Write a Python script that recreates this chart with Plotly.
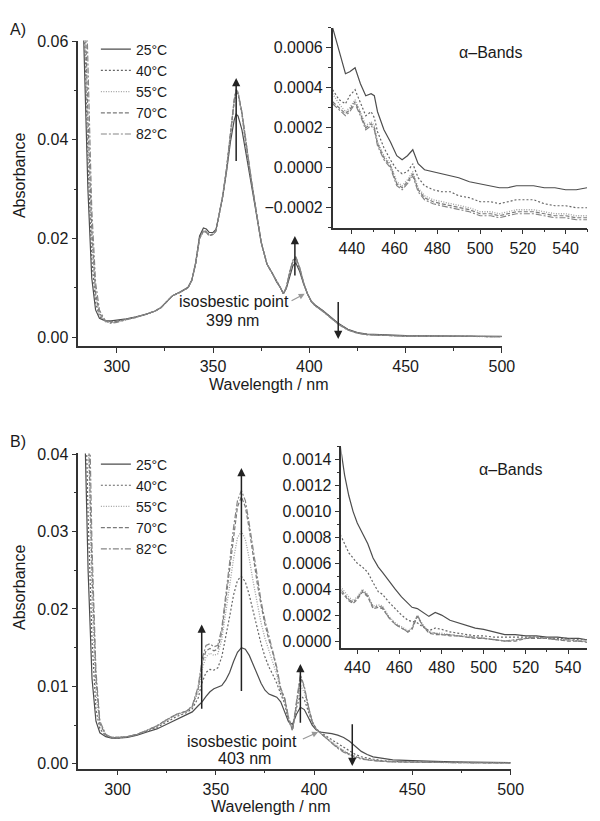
import plotly.graph_objects as go

# ---------------- data ----------------
temps = ["25°C", "40°C", "55°C", "70°C", "82°C"]

# Panel A main spectrum
wl_a = [280, 283, 285, 287, 289, 291, 294, 297, 300, 305, 310, 315, 320, 323, 326, 329, 333, 337, 339,
        341, 343, 345, 346.5, 348, 350, 351.5, 353, 355, 357, 359, 361, 362, 363, 365, 367, 370, 373, 375, 378,
        381, 383, 385, 386.5, 388, 390, 391.5, 393, 395, 397, 399, 401, 403, 407, 411, 415, 420, 425, 430, 440,
        450, 460, 470, 480, 490, 500]
a_25 = [0.10, 0.06, 0.03, 0.012, 0.0055, 0.0038, 0.0033, 0.0033, 0.0034,
        0.0037, 0.0041, 0.0046, 0.0053, 0.0060, 0.0072, 0.0084, 0.0092, 0.0101, 0.0116,
        0.0152, 0.0205, 0.0221, 0.0219, 0.0212, 0.0212, 0.0218, 0.0245, 0.0285, 0.0335,
        0.0395, 0.0440, 0.0452, 0.0448, 0.0420, 0.0375, 0.0310, 0.0238, 0.0192, 0.0148,
        0.0128, 0.0112, 0.0100, 0.0088, 0.0098, 0.0128, 0.0145, 0.0150, 0.0133, 0.0108,
        0.0088, 0.0073, 0.0065, 0.0054, 0.0041, 0.0028, 0.0016, 0.0009, 0.0006, 0.0004,
        0.0003, 0.00025, 0.0002, 0.0002, 0.00015, 0.00015]
a_40 = [0.11, 0.065, 0.036, 0.016, 0.007, 0.0042, 0.0032, 0.0030, 0.0032,
        0.0036, 0.0040, 0.0046, 0.0053, 0.0060, 0.0072, 0.0084, 0.0091, 0.0100, 0.0115,
        0.0150, 0.0201, 0.0216, 0.0214, 0.0207, 0.0209, 0.0215, 0.0245, 0.0285, 0.0340,
        0.0408, 0.0477, 0.0497, 0.0492, 0.0452, 0.0388, 0.0315, 0.0238, 0.0192, 0.0148,
        0.0128, 0.0112, 0.0100, 0.0088, 0.0100, 0.0133, 0.0153, 0.0158, 0.0138, 0.0110,
        0.0088, 0.0072, 0.0064, 0.0053, 0.0040, 0.0027, 0.0015, 0.0008, 0.0005, 0.0003,
        0.0002, 0.00018, 0.00015, 0.00012, 0.0001, 0.0001]
a_55 = [0.115, 0.07, 0.04, 0.020, 0.008, 0.0046, 0.0031, 0.0029, 0.0031,
        0.0035, 0.0040, 0.0046, 0.0053, 0.0060, 0.0072, 0.0084, 0.0091, 0.0100, 0.0115,
        0.0150, 0.0200, 0.0215, 0.0213, 0.0206, 0.0208, 0.0215, 0.0245, 0.0285, 0.0340,
        0.0410, 0.0479, 0.0499, 0.0494, 0.0452, 0.0387, 0.0315, 0.0238, 0.0192, 0.0148,
        0.0128, 0.0112, 0.0100, 0.0088, 0.0100, 0.0134, 0.0154, 0.0160, 0.0139, 0.0110,
        0.0088, 0.0072, 0.0064, 0.0053, 0.0040, 0.0027, 0.0015, 0.0008, 0.0005, 0.0003,
        0.0002, 0.00018, 0.00015, 0.00012, 0.0001, 0.0001]
a_70 = [0.12, 0.075, 0.045, 0.022, 0.009, 0.0048, 0.0034, 0.0031, 0.0032,
        0.0036, 0.0040, 0.0046, 0.0053, 0.0060, 0.0072, 0.0084, 0.0091, 0.0100, 0.0115,
        0.0150, 0.0200, 0.0215, 0.0213, 0.0206, 0.0208, 0.0215, 0.0245, 0.0285, 0.0340,
        0.0410, 0.0480, 0.0500, 0.0495, 0.0455, 0.0395, 0.0315, 0.0240, 0.0192, 0.0148,
        0.0128, 0.0112, 0.0100, 0.0088, 0.0100, 0.0135, 0.0155, 0.0162, 0.0140, 0.0110,
        0.0088, 0.0072, 0.0064, 0.0053, 0.0040, 0.0027, 0.0015, 0.0008, 0.0005, 0.0003,
        0.0002, 0.00018, 0.00015, 0.00012, 0.0001, 0.0001]
a_82 = [0.13, 0.085, 0.052, 0.026, 0.011, 0.0055, 0.0033, 0.0028, 0.0030,
        0.0035, 0.0040, 0.0046, 0.0053, 0.0060, 0.0072, 0.0084, 0.0091, 0.0100, 0.0115,
        0.0150, 0.0200, 0.0214, 0.0212, 0.0205, 0.0208, 0.0215, 0.0246, 0.0287, 0.0342,
        0.0412, 0.0482, 0.0502, 0.0496, 0.0456, 0.0396, 0.0316, 0.0239, 0.0192, 0.0148,
        0.0128, 0.0112, 0.0100, 0.0088, 0.0101, 0.0136, 0.0156, 0.0163, 0.0141, 0.0111,
        0.0088, 0.0072, 0.0063, 0.0052, 0.0039, 0.0026, 0.0014, 0.0008, 0.0005, 0.0003,
        0.0002, 0.00018, 0.00015, 0.00012, 0.0001, 0.0001]

# Panel A inset (alpha bands)
wl_ai = [431, 434, 437, 439, 441.5, 444, 446.5, 449, 450.5, 452, 455, 458, 461, 463.5, 466, 468.5, 471, 474,
         478, 482, 486, 490, 495, 500, 505, 509, 513, 517, 521, 525, 530, 535, 540, 545, 550]
ai_25 = [0.00070, 0.00058, 0.00047, 0.00048, 0.00050, 0.00042, 0.00036, 0.00037, 0.00036, 0.00028,
         0.00019, 0.00013, 0.00006, 0.00004, 0.00006, 0.00009, 0.00002, -0.00001, -0.00002, -0.00003,
         -0.00004, -0.00005, -0.00007, -0.00008, -0.00009, -0.00010, -0.00010, -0.00009, -0.00009, -0.00009,
         -0.00010, -0.00010, -0.00011, -0.00011, -0.00010]
ai_40 = [0.00039, 0.00034, 0.00032, 0.00036, 0.00039, 0.00032, 0.00026, 0.00028, 0.00025, 0.00018,
         0.00010, 0.00004, -0.00001, -0.00003, -0.00002, 0.00002, -0.00005, -0.00009, -0.00011, -0.00012,
         -0.00012, -0.00014, -0.00015, -0.00017, -0.00017, -0.00018, -0.00017, -0.00016, -0.00016, -0.00016,
         -0.00018, -0.00019, -0.00019, -0.00020, -0.00020]
ai_55 = [0.00037, 0.00032, 0.00028, 0.00030, 0.00034, 0.00028, 0.00021, 0.00023, 0.00021, 0.00013,
         0.00006, 0.00002, -0.00007, -0.00009, -0.00006, -0.00002, -0.00010, -0.00014, -0.00016, -0.00017,
         -0.00018, -0.00019, -0.00020, -0.00022, -0.00022, -0.00023, -0.00022, -0.00021, -0.00021, -0.00021,
         -0.00022, -0.00023, -0.00023, -0.00024, -0.00024]
ai_70 = [0.00033, 0.00030, 0.00027, 0.00029, 0.00033, 0.00027, 0.00020, 0.00022, 0.00020, 0.00012,
         0.00005, 0.00001, -0.00008, -0.00010, -0.00007, -0.00003, -0.00011, -0.00015, -0.00017, -0.00018,
         -0.00019, -0.00020, -0.00021, -0.00023, -0.00023, -0.00024, -0.00023, -0.00022, -0.00022, -0.00022,
         -0.00023, -0.00024, -0.00024, -0.00025, -0.00025]
ai_82 = [0.00032, 0.00029, 0.00026, 0.00028, 0.00032, 0.00026, 0.00019, 0.00021, 0.00019, 0.00011,
         0.00004, 0.00000, -0.00009, -0.00011, -0.00008, -0.00004, -0.00012, -0.00016, -0.00018, -0.00019,
         -0.00020, -0.00021, -0.00022, -0.00024, -0.00024, -0.00025, -0.00024, -0.00023, -0.00023, -0.00023,
         -0.00024, -0.00025, -0.00025, -0.00026, -0.00026]

# Panel B main spectrum
wl_b = [280, 283, 285, 287, 289, 291, 294, 297, 300, 305, 310, 315, 320, 325, 330, 335, 338, 341, 343, 345,
        347, 349, 351, 353, 355, 357, 359, 361, 363, 365, 367, 369, 371, 373, 375, 377, 379, 381, 383, 385,
        387, 389, 391, 393, 395, 397, 399, 401, 403, 406, 409, 412, 415, 418, 421, 424, 427, 430, 435, 440,
        450, 460, 470, 480, 490, 500]
b_25 = [0.08, 0.045, 0.025, 0.011, 0.0055, 0.0040, 0.0035, 0.0033, 0.0033, 0.0034,
        0.0037, 0.0041, 0.0045, 0.0051, 0.0057, 0.0063, 0.0067, 0.0075, 0.0080, 0.0087,
        0.0093, 0.0097, 0.0099, 0.0101, 0.0108, 0.0118, 0.0132, 0.0144, 0.0150, 0.0148,
        0.0140, 0.0128, 0.0116, 0.0104, 0.0095, 0.0090, 0.0088, 0.0086, 0.0080, 0.0068,
        0.0054, 0.0051, 0.0064, 0.0073, 0.0070, 0.0060, 0.0050, 0.0044, 0.0041, 0.0040,
        0.0039, 0.0037, 0.0034, 0.0029, 0.0022, 0.0016, 0.0012, 0.0009, 0.0007, 0.0005,
        0.0004, 0.0003, 0.00025, 0.0002, 0.0002, 0.00015]
b_40 = [0.09, 0.055, 0.032, 0.016, 0.007, 0.0045, 0.0036, 0.0034, 0.0033, 0.0035,
        0.0038, 0.0042, 0.0047, 0.0054, 0.0061, 0.0066, 0.0071, 0.0085, 0.0105, 0.0118,
        0.0122, 0.0121, 0.0124, 0.0138, 0.0162, 0.0190, 0.0218, 0.0237, 0.0242, 0.0235,
        0.0218, 0.0196, 0.0175, 0.0155, 0.0138, 0.0125, 0.0115, 0.0104, 0.0090, 0.0078,
        0.0055, 0.0045, 0.0072, 0.0089, 0.0083, 0.0068, 0.0053, 0.0045, 0.0041, 0.0036,
        0.0031, 0.0026, 0.0021, 0.0016, 0.0012, 0.0009, 0.0007, 0.0006, 0.0004, 0.0003,
        0.00025, 0.0002, 0.00018, 0.00015, 0.00012, 0.0001]
b_55 = [0.10, 0.065, 0.04, 0.021, 0.009, 0.005, 0.0037, 0.0034, 0.0034, 0.0035,
        0.0038, 0.0043, 0.0048, 0.0056, 0.0063, 0.0067, 0.0073, 0.0093, 0.0122, 0.0138,
        0.0143, 0.0140, 0.0142, 0.0160, 0.0195, 0.0230, 0.0265, 0.0292, 0.0300, 0.0290,
        0.0265, 0.0235, 0.0207, 0.0182, 0.0162, 0.0146, 0.0132, 0.0115, 0.0093, 0.0082,
        0.0057, 0.0044, 0.0076, 0.0102, 0.0092, 0.0072, 0.0054, 0.0045, 0.0040, 0.0034,
        0.0028, 0.0022, 0.0017, 0.0013, 0.0010, 0.0007, 0.0006, 0.0005, 0.00035, 0.0003,
        0.0002, 0.00018, 0.00015, 0.00012, 0.0001, 0.0001]
b_70 = [0.11, 0.072, 0.045, 0.025, 0.011, 0.0052, 0.0037, 0.0034, 0.0034, 0.0035,
        0.0038, 0.0043, 0.0049, 0.0057, 0.0064, 0.0068, 0.0074, 0.0097, 0.0130, 0.0146,
        0.0149, 0.0146, 0.0148, 0.0170, 0.0210, 0.0252, 0.0295, 0.0332, 0.0345, 0.0332,
        0.0303, 0.0268, 0.0234, 0.0205, 0.0180, 0.0160, 0.0143, 0.0122, 0.0096, 0.0084,
        0.0059, 0.0043, 0.0079, 0.0112, 0.0098, 0.0074, 0.0055, 0.0045, 0.0040, 0.0033,
        0.0027, 0.0021, 0.0016, 0.0012, 0.0009, 0.0007, 0.0005, 0.0004, 0.0003, 0.00025,
        0.0002, 0.00018, 0.00015, 0.00012, 0.0001, 0.0001]
b_82 = [0.12, 0.08, 0.05, 0.028, 0.012, 0.0055, 0.0038, 0.0034, 0.0034, 0.0035,
        0.0038, 0.0043, 0.0049, 0.0057, 0.0064, 0.0068, 0.0075, 0.0100, 0.0135, 0.0153,
        0.0155, 0.0151, 0.0153, 0.0175, 0.0215, 0.0260, 0.0305, 0.0340, 0.0353, 0.0340,
        0.0310, 0.0275, 0.0240, 0.0210, 0.0185, 0.0165, 0.0148, 0.0125, 0.0098, 0.0085,
        0.0060, 0.0043, 0.0080, 0.0115, 0.0100, 0.0075, 0.0055, 0.0045, 0.0040, 0.0033,
        0.0026, 0.0020, 0.0015, 0.0011, 0.0008, 0.0006, 0.0005, 0.0004, 0.0003, 0.00025,
        0.0002, 0.00018, 0.00015, 0.00012, 0.0001, 0.0001]

# Panel B inset (alpha bands)
wl_bi = [432, 434, 436, 438, 440, 442.5, 445, 447.5, 450, 452, 455, 458, 461, 464, 466, 468.5, 471, 474,
         477, 480, 484, 488, 492, 496, 500, 505, 510, 515, 520, 525, 530, 535, 540, 545, 549]
bi_25 = [0.00150, 0.00128, 0.00112, 0.00100, 0.00091, 0.00083, 0.00075, 0.00064, 0.00057, 0.00053,
         0.00046, 0.00040, 0.00034, 0.00029, 0.00026, 0.00025, 0.00022, 0.00019, 0.00022, 0.00020,
         0.00016, 0.00014, 0.00012, 0.00010, 0.00009, 0.00007, 0.00005, 0.00005, 0.00004, 0.00004,
         0.00003, 0.00003, 0.00002, 0.00002, 0.00001]
bi_40 = [0.00082, 0.00075, 0.00068, 0.00064, 0.00060, 0.00057, 0.00053, 0.00045, 0.00038, 0.00036,
         0.00030, 0.00025, 0.00020, 0.00016, 0.00015, 0.00014, 0.00011, 0.00008, 0.00010, 0.00009,
         0.00007, 0.00006, 0.00005, 0.00004, 0.00004, 0.00003, 0.00003, 0.00003, 0.00003, 0.00003,
         0.00002, 0.00002, 0.00002, 0.00001, 0.00001]
bi_55 = [0.00042, 0.00038, 0.00034, 0.00031, 0.00034, 0.00040, 0.00036, 0.00027, 0.00028, 0.00027,
         0.00019, 0.00014, 0.00011, 0.00008, 0.00010, 0.00020, 0.00013, 0.00007, 0.00006, 0.00006,
         0.00005, 0.00004, 0.00004, 0.00003, 0.00002, 0.00001, 0.00000, 0.00001, 0.00002, 0.00003,
         0.00002, 0.00001, 0.00001, 0.00000, 0.00000]
bi_70 = [0.00038, 0.00035, 0.00031, 0.00029, 0.00032, 0.00038, 0.00034, 0.00025, 0.00026, 0.00025,
         0.00018, 0.00013, 0.00010, 0.00007, 0.00009, 0.00019, 0.00012, 0.00006, 0.00005, 0.00005,
         0.00004, 0.00004, 0.00003, 0.00002, 0.00002, 0.00001, 0.00000, 0.00000, 0.00002, 0.00002,
         0.00002, 0.00001, 0.00000, 0.00000, -0.00001]
bi_82 = [0.00040, 0.00036, 0.00032, 0.00030, 0.00033, 0.00039, 0.00035, 0.00026, 0.00027, 0.00026,
         0.00018, 0.00013, 0.00010, 0.00007, 0.00010, 0.00020, 0.00012, 0.00007, 0.00006, 0.00005,
         0.00005, 0.00004, 0.00003, 0.00003, 0.00002, 0.00001, 0.00000, 0.00001, 0.00002, 0.00003,
         0.00002, 0.00001, 0.00001, 0.00000, 0.00000]

series_a = [a_25, a_40, a_55, a_70, a_82]
series_ai = [ai_25, ai_40, ai_55, ai_70, ai_82]
series_b = [b_25, b_40, b_55, b_70, b_82]
series_bi = [bi_25, bi_40, bi_55, bi_70, bi_82]

# ---------------- styling ----------------
FONT = "Liberation Sans, Arial, Helvetica, sans-serif"
TXT = "#1a1a1a"
line_styles = [
    dict(color="#4d4d4d", dash="solid", width=1.2),
    dict(color="#666666", dash="2px,2px", width=1.2),
    dict(color="#a0a0a0", dash="1px,1.5px", width=1.3),
    dict(color="#7a7a7a", dash="4px,2px", width=1.2),
    dict(color="#858585", dash="6px,2px,2px,2px", width=1.2),
]

W, H = 600, 821


def fx(p):
    return p / W


def fy(p):
    return 1 - p / H


fig = go.Figure()


def add_panel(xs, ys_list, xa, ya, legend_name):
    for i, t in enumerate(temps):
        fig.add_trace(go.Scatter(
            x=xs, y=ys_list[i], mode="lines", name=t, line=line_styles[i],
            xaxis=xa, yaxis=ya, legend=legend_name,
            showlegend=legend_name is not None))


add_panel(wl_a, series_a, "x", "y", "legend")
add_panel(wl_ai, series_ai, "x2", "y2", None)
add_panel(wl_b, series_b, "x3", "y3", "legend2")
add_panel(wl_bi, series_bi, "x4", "y4", None)

axis_base = dict(showline=True, linecolor="#333333", linewidth=1.5, ticks="outside", ticklen=5,
                 tickwidth=1.2, tickcolor="#333333", showgrid=False, zeroline=False, mirror=False,
                 tickfont=dict(family=FONT, size=16, color=TXT))


def ax(**kw):
    d = dict(axis_base)
    d.update(kw)
    return d


minor_x = dict(ticks="outside", ticklen=3, tickcolor="#333333", tickwidth=1.1, showgrid=False)

fig.update_layout(
    width=W, height=H, margin=dict(l=0, r=0, t=0, b=0),
    paper_bgcolor="white", plot_bgcolor="rgba(0,0,0,0)",
    font=dict(family=FONT, size=16, color=TXT),
    xaxis=ax(domain=[fx(80), fx(513)], range=[280, 500], dtick=50, tick0=0, anchor="y",
             minor=dict(dtick=25, **minor_x)),
    yaxis=ax(domain=[fy(343), fy(33)], range=[-0.0018, 0.0601], dtick=0.02, tick0=0, tickformat=".2f",
             anchor="x", minor=dict(dtick=0.01, **minor_x)),
    xaxis2=ax(domain=[fx(340), 1.0], range=[431, 550], dtick=20, tick0=0, anchor="y2",
              minor=dict(dtick=10, **minor_x)),
    yaxis2=ax(domain=[fy(223), fy(20)], range=[-0.0003, 0.0007], dtick=0.0002, tick0=0, tickformat=".4f",
              anchor="x2", minor=dict(dtick=0.0001, **minor_x)),
    xaxis3=ax(domain=[fx(80), fx(522)], range=[280, 500], dtick=50, tick0=0, anchor="y3",
              minor=dict(dtick=25, **minor_x)),
    yaxis3=ax(domain=[fy(772), fy(452)], range=[-0.00064, 0.0401], dtick=0.01, tick0=0, tickformat=".2f",
              anchor="x3", minor=dict(dtick=0.005, **minor_x)),
    xaxis4=ax(domain=[fx(349), 1.0], range=[432.5, 549], dtick=20, tick0=0, anchor="y4",
              minor=dict(dtick=10, **minor_x)),
    yaxis4=ax(domain=[fy(649), fy(445)], range=[-0.00005, 0.0015], dtick=0.0002, tick0=0, tickformat=".4f",
              anchor="x4", minor=dict(dtick=0.0001, **minor_x)),
    legend=dict(x=fx(98), y=fy(26), xanchor="left", yanchor="top", bgcolor="rgba(0,0,0,0)",
                font=dict(family=FONT, size=14, color=TXT), itemwidth=30, tracegroupgap=0),
    legend2=dict(x=fx(98), y=fy(447), xanchor="left", yanchor="top", bgcolor="rgba(0,0,0,0)",
                 font=dict(family=FONT, size=14, color=TXT), itemwidth=30, tracegroupgap=0),
    showlegend=True,
)

annotations = []


def text(xp, yp, s, size=16, xanchor="center", angle=0):
    annotations.append(dict(x=fx(xp), y=fy(yp), xref="paper", yref="paper", text=s, showarrow=False,
                            xanchor=xanchor, yanchor="middle", textangle=angle,
                            font=dict(family=FONT, size=size, color=TXT)))


def arrow(xr, yr, x0, y0, x1, y1, color="#222222", width=1.5, head=2, size=1.1):
    annotations.append(dict(x=x1, y=y1, ax=x0, ay=y0, xref=xr, yref=yr, axref=xr, ayref=yr, text="",
                            showarrow=True, arrowhead=head, arrowsize=size, arrowwidth=width,
                            arrowcolor=color, standoff=0, startstandoff=0))


# panel labels and titles
text(8, 22, "A)", xanchor="left")
text(8, 440, "B)", xanchor="left")
text(20, 170, "Absorbance", angle=-90)
text(20, 588, "Absorbance", angle=-90)
text(274, 382, "Wavelength / nm")
text(276, 810, "Wavelength / nm")
text(502, 45, "α–Bands")
text(522, 468, "α–Bands")
text(239, 298, "isosbestic point")
text(238, 317, "399 nm")
text(247, 744, "isosbestic point")
text(250, 762, "403 nm")

# arrows panel A
arrow("x", "y", 362, 0.0354, 362, 0.0525)
arrow("x", "y", 392.5, 0.0122, 392.5, 0.0205)
arrow("x", "y", 415, 0.0074, 415, -0.0004)
arrow("x", "y", 390.0, 0.0072, 397.6, 0.0088, color="#999999", width=1.2, head=2, size=1.0)
# arrows panel B
arrow("x3", "y3", 342.8, 0.0069, 342.8, 0.0180)
arrow("x3", "y3", 363, 0.0092, 363, 0.0382)
arrow("x3", "y3", 393, 0.0051, 393, 0.0129)
arrow("x3", "y3", 419.4, 0.0053, 419.4, -0.0003)
arrow("x3", "y3", 393.5, 0.0031, 402, 0.0041, color="#999999", width=1.2, head=2, size=1.0)

fig.update_layout(annotations=annotations)

fig.write_html("out.html",
               config={"displayModeBar": False},
               post_script="document.body.style.margin='0px';document.body.style.overflow='hidden';")
